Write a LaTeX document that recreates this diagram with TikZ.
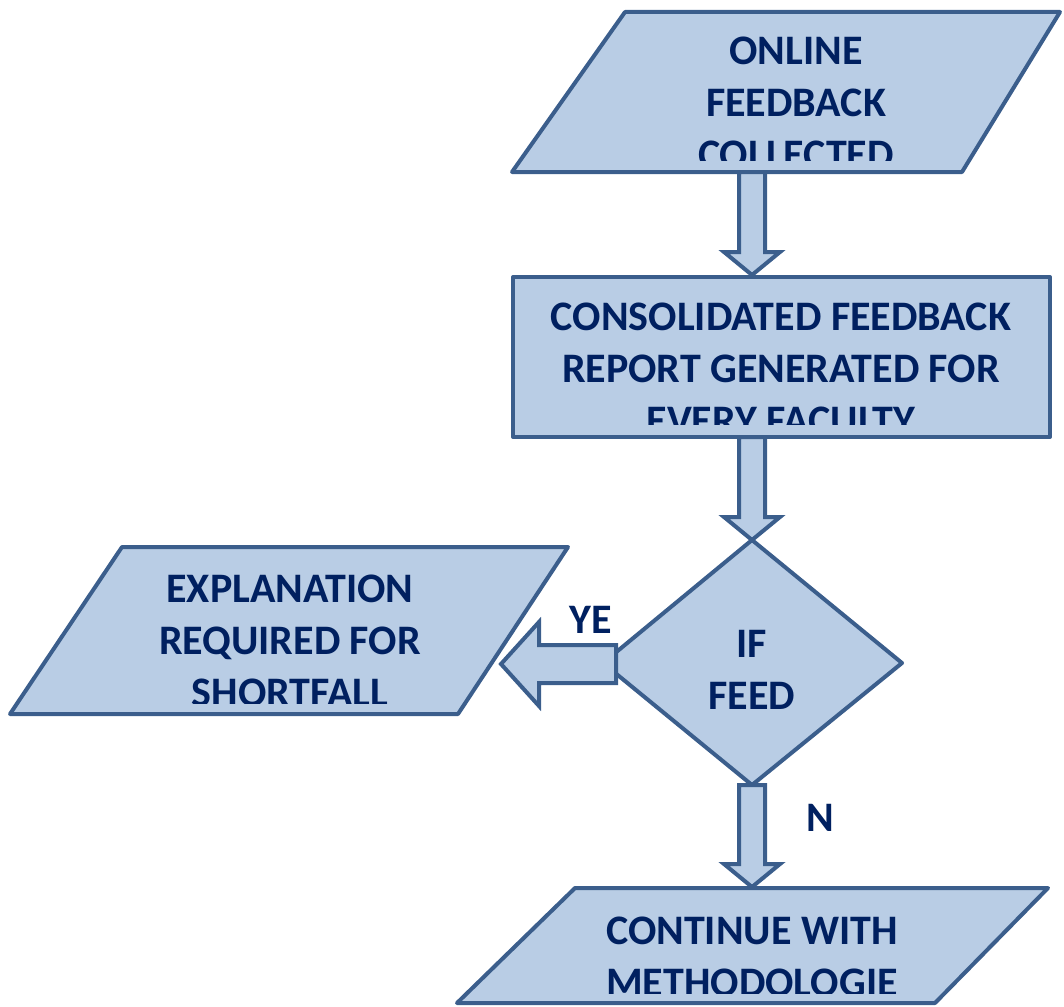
\documentclass[tikz,border=0pt]{standalone}
\usepackage{fontspec}
\setmainfont{Carlito}
\usetikzlibrary{calc}
\definecolor{fillc}{HTML}{B9CDE5}
\definecolor{linec}{HTML}{3B5E8C}
\definecolor{txtc}{HTML}{002060}
\newcommand\blkdown[2]{%
  \draw[blk] ($(#1)+(-13,0)$) -- ($(#1)+(13,0)$) -- ($(#2)+(13,-23)$) -- ($(#2)+(28,-23)$) -- (#2)
    -- ($(#2)+(-28,-23)$) -- ($(#2)+(-13,-23)$) -- cycle;}
\begin{document}
\begin{tikzpicture}[x=1pt,y=-1pt,
  shp/.style={fill=fillc,draw=linec,line width=4pt,line join=round},
  blk/.style={fill=fillc,draw=linec,line width=4pt,line join=miter},
  txt/.style={text=txtc,font=\fontsize{42}{52}\selectfont\bfseries,align=center,inner sep=0pt}]
\useasboundingbox (0,0) rectangle (1064,1006);

% top parallelogram
\draw[shp] (625,12) -- (1060,12) -- (962,172) -- (512,172) -- cycle;
\coordinate (p1b) at (752,172);
\begin{scope}
  \clip (512,12) rectangle (1060,160);
  \node[txt,anchor=north] (t1) at (796,37) {ONLINE\\FEEDBACK\\COLLECTED};
\end{scope}

% rectangle
\draw[shp] (513,277) rectangle (1050,437);
\coordinate (r1t) at (752,275);
\coordinate (r1b) at (752,437);
\begin{scope}
  \clip (513,277) rectangle (1050,424);
  \node[txt,anchor=north] (t2) at (781,303) {CONSOLIDATED FEEDBACK\\REPORT GENERATED FOR\\EVERY FACULTY};
\end{scope}

% diamond
\draw[shp] (752,540) -- (902,663) -- (752,785) -- (603,663) -- cycle;
\coordinate (dt) at (752,540);
\coordinate (db) at (752,785);
\coordinate (dl) at (616,664);
\node[txt,anchor=north] (t3) at (752,630) {IF\\FEED};

% left parallelogram
\draw[shp] (122,547) -- (568,547) -- (458,714) -- (10,714) -- cycle;
\coordinate (p2r) at (501,664);
\begin{scope}
  \clip (10,547) rectangle (568,703);
  \node[txt,anchor=north] (t4) at (290,575) {EXPLANATION\\REQUIRED FOR\\SHORTFALL};
\end{scope}

% bottom parallelogram
\draw[shp] (575,888) -- (1048,888) -- (935,1003) -- (457,1003) -- cycle;
\coordinate (p3t) at (752,887);
\begin{scope}
  \clip (457,888) rectangle (1048,993);
  \node[txt,anchor=north] (t5) at (752,917) {CONTINUE WITH\\METHODOLOGIE};
\end{scope}

% block arrows
\blkdown{p1b}{r1t}
\blkdown{r1b}{dt}
\blkdown{db}{p3t}
\draw[blk] ($(dl)+(0,-19)$) -- ($(dl)+(0,19)$) -- ($(p2r)+(38,19)$) -- ($(p2r)+(38,42)$) -- (p2r)
  -- ($(p2r)+(38,-42)$) -- ($(p2r)+(38,-19)$) -- cycle;

% labels
\node[txt] (ye) at (591,620) {YE};
\node[txt] (no) at (820,818) {N};
\end{tikzpicture}
\end{document}
